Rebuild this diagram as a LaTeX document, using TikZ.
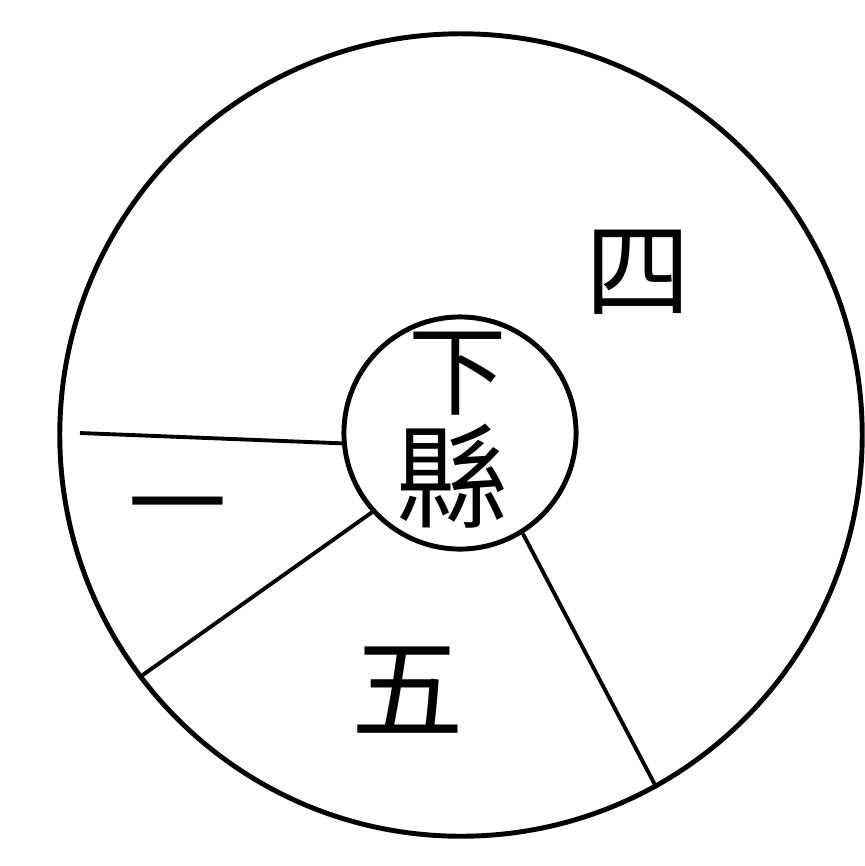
\documentclass[tikz,border=0pt]{standalone}
\usepackage{fontspec}
\newfontfamily\cjk{Noto Sans CJK TC}
\usepackage{tikz}
\usetikzlibrary{positioning}

\begin{document}
\begin{tikzpicture}[
  x=0.01cm, y=-0.01cm,
  ring/.style={draw, circle, inner sep=0pt, line width=1.4pt},
  spoke/.style={line width=1.1pt},
  glyph/.style={inner sep=0pt, font=\cjk\fontsize{28}{28}\selectfont}
]
\useasboundingbox (0,0) rectangle (865,866);

% Rings
\node[ring, minimum size=8.02cm] (rim) at (461,435) {};
\node[ring, minimum size=2.32cm] (hub) at (460,433) {};

% Centre text
\node[glyph] (xia) at (458,374) {下};
\node[glyph, font=\cjk\fontsize{32}{32}\selectfont] (xian) at (453,476) {縣};

% Spokes
\coordinate (tip) at (80,433);
\draw[spoke] (hub.185) -- (tip);
\draw[spoke] (hub.222) -- (rim.217);
\draw[spoke] (hub.302) -- (rim.299);

% Sector labels
\node[glyph, font=\cjk\fontsize{30}{30}\selectfont] (si) at (638,272) {四};
\node[glyph] (yi) at (178,518) {一};
\node[glyph, font=\cjk\fontsize{32}{32}\selectfont] (wu) at (408,690) {五};

\end{tikzpicture}
\end{document}
